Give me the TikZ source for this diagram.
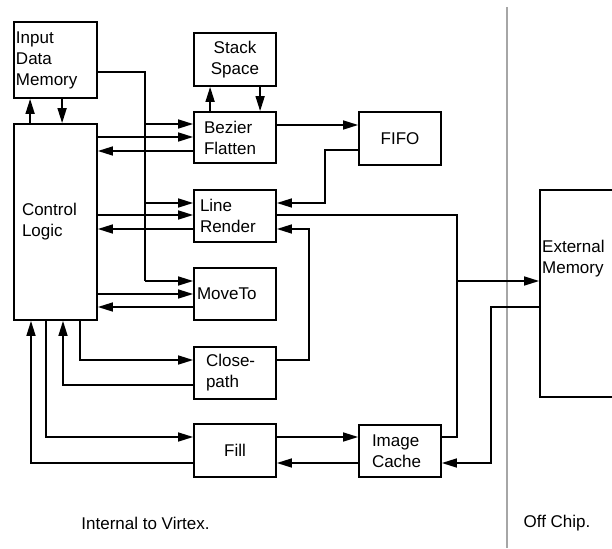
\documentclass[tikz,border=0pt]{standalone}
\usepackage{fontspec}
\setmainfont{Liberation Sans}
\usetikzlibrary{arrows.meta}
\begin{document}
\begin{tikzpicture}[x=1pt,y=-1pt,
  font=\fontsize{17}{21}\selectfont,
  box/.style={draw, line width=1.8pt, inner ysep=0pt, align=left},
  line/.style={line width=1.6pt},
  arr/.style={line width=1.6pt, -{Triangle[length=15pt,width=9pt]}}]
\useasboundingbox (0,0) rectangle (612,548);
% boxes
\node[box, text width=79, inner xsep=2, minimum height=76] (idm) at (55.5,60) {Input\\Data\\Memory};
\node[box, text width=67, inner xsep=8, minimum height=196] (cl) at (55.5,222) {Control\\Logic};
\node[box, text width=72, inner xsep=5, minimum height=53, align=center] (ss) at (235,59.5) {Stack\\Space};
\node[box, text width=62, inner xsep=10, minimum height=51] (bf) at (235,137.5) {Bezier\\Flatten};
\node[box, text width=72, inner xsep=5, minimum height=53, align=center] (fifo) at (400,138.5) {FIFO};
\node[box, text width=70, inner xsep=6, minimum height=52] (lr) at (235,216) {Line\\Render};
\node[box, text width=76, inner xsep=3, minimum height=52] (mt) at (235,294) {MoveTo};
\node[box, text width=58, inner xsep=12, minimum height=52] (cp) at (235,373) {Close-\\path};
\node[box, text width=72, inner xsep=5, minimum height=53, align=center] (fill) at (235,450.5) {Fill};
\node[box, text width=56, inner xsep=13, minimum height=52] (ic) at (400,451) {Image\\Cache};
\node[draw, line width=1.8pt, minimum width=110, minimum height=207, inner sep=0pt] (em) at (595,293.5) {};
\node[anchor=west, align=left, inner sep=0pt] (emtext) at (542,258.5) {External\\Memory};
% divider
\draw[line width=1.2pt, color=black!35] (507,7) -- (507,548);
% captions
\node (cap1) at (145.5,523) {Internal to Virtex.};
\node (cap2) at (557,523) {Off Chip.};
% junction coordinates
\coordinate (bus1) at (145,124);
\coordinate (bus2) at (145,203);
\coordinate (bus3) at (145,281);
\coordinate (j1) at (325,203);
\coordinate (j2) at (457,437);
\coordinate (j3) at (457,281);
\coordinate (j4) at (491,463);
\coordinate (j5) at (309,229);
% idm <-> cl
\draw[arr] ([xshift=17]cl.north west) -- ([xshift=17]idm.south west);
\draw[arr] ([xshift=49]idm.south west) -- ([xshift=49]cl.north west);
% bf <-> ss
\draw[arr] ([xshift=17]bf.north west) -- ([xshift=17]ss.south west);
\draw[arr] ([xshift=67]ss.south west) -- ([xshift=67]bf.north west);
% idm bus
\draw[line] (idm.east |- 0,72) -| (bus3);
\draw[arr] (bus1) -- (bus1 -| bf.west);
\draw[arr] (bus2) -- (bus2 -| lr.west);
\draw[arr] (bus3) -- (bus3 -| mt.west);
% cl <-> bf
\draw[arr] (cl.east |- 0,137) -- (bf.west |- 0,137);
\draw[arr] (bf.west |- 0,151) -- (cl.east |- 0,151);
% bf -> fifo -> lr
\draw[arr] (bf.east |- 0,125) -- (fifo.west |- 0,125);
\draw[arr] (fifo.west |- 0,150) -| (j1) -- (j1 -| lr.east);
% cl <-> lr
\draw[arr] (cl.east |- 0,215) -- (lr.west |- 0,215);
\draw[arr] (lr.west |- 0,229) -- (cl.east |- 0,229);
% lr / ic -> em
\draw[line] (lr.east |- 0,215) -| (j2) -- (j2 -| ic.east);
\draw[arr] (j3) -- (j3 -| em.west);
\draw[arr] (em.west |- 0,307) -| (j4) -- (j4 -| ic.east);
% cl <-> mt
\draw[arr] (cl.east |- 0,294) -- (mt.west |- 0,294);
\draw[arr] (mt.west |- 0,307) -- (cl.east |- 0,307);
% cl <-> cp
\draw[arr] (cl.south -| 80,0) |- (cp.west |- 0,360);
\draw[arr] (cp.west |- 0,385) -| (cl.south -| 63,0);
\draw[arr] (cp.east |- 0,360) -| (j5) -- (j5 -| lr.east);
% cl <-> fill
\draw[arr] (cl.south -| 46,0) |- (fill.west |- 0,437);
\draw[arr] (fill.west |- 0,463) -| (cl.south -| 31,0);
% fill <-> ic
\draw[arr] (fill.east |- 0,437) -- (ic.west |- 0,437);
\draw[arr] (ic.west |- 0,463) -- (fill.east |- 0,463);
\end{tikzpicture}
\end{document}
